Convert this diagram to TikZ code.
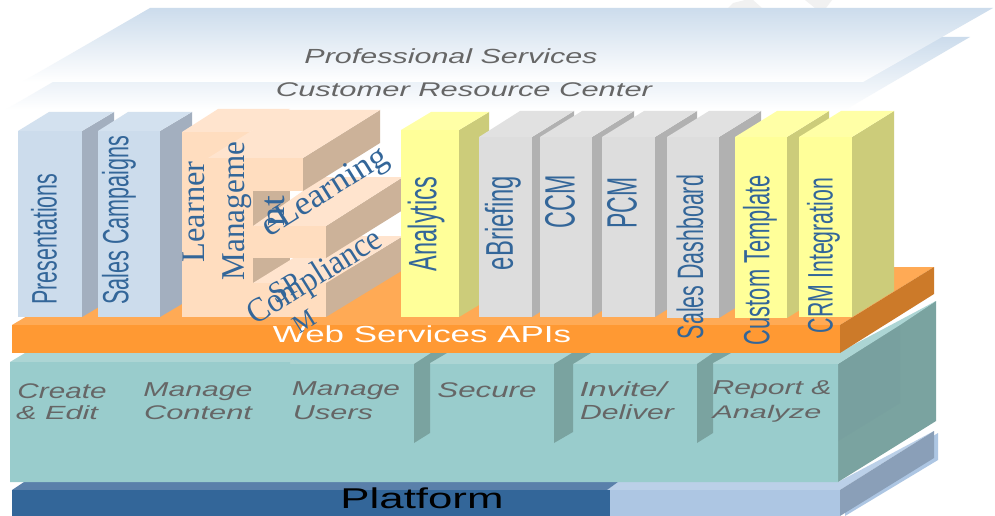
\documentclass[tikz,border=0pt]{standalone}
\usepackage{graphicx}
\usepackage{fontspec}
\setmainfont{Liberation Serif}
\setsansfont{Liberation Sans}
\definecolor{bluefront}{HTML}{CCDCEC}
\definecolor{bluetop}{HTML}{D3E1EF}
\definecolor{blueside}{HTML}{A3AFBF}
\definecolor{peachfront}{HTML}{FFDDBF}
\definecolor{peachtop}{HTML}{FFE4CE}
\definecolor{peachside}{HTML}{CCB299}
\definecolor{yelfront}{HTML}{FFFF99}
\definecolor{yeltop}{HTML}{FFFFA6}
\definecolor{yelside}{HTML}{CCCC7A}
\definecolor{greyfront}{HTML}{DDDDDD}
\definecolor{greytop}{HTML}{E1E1E1}
\definecolor{greyside}{HTML}{B1B1B1}
\definecolor{orfront}{HTML}{FF9933}
\definecolor{ortop}{HTML}{FFAA55}
\definecolor{orside}{HTML}{CC7A29}
\definecolor{teafront}{HTML}{99CCCC}
\definecolor{teatop}{HTML}{ACD5D4}
\definecolor{teaside}{HTML}{7AA3A0}
\definecolor{teainner}{HTML}{78A09F}
\definecolor{plat}{HTML}{336699}
\definecolor{plattop}{HTML}{5A80AA}
\definecolor{platlight}{HTML}{ADC6E3}
\definecolor{platlighttop}{HTML}{BBD0E8}
\definecolor{platside}{HTML}{8A9FB8}
\definecolor{skyblue}{HTML}{CCDCEC}
\definecolor{inkblue}{HTML}{336699}
\definecolor{inkgrey}{HTML}{666666}
\definecolor{ghost}{HTML}{F1F1F1}
\tikzset{
  txt/.style={inner sep=0pt,outer sep=0pt,anchor=center},
  narrow/.style={txt,text=inkblue,font=\sffamily,rotate=90},
  serifup/.style={txt,text=inkblue,font=\rmfamily,rotate=90},
  serifslant/.style={txt,text=inkblue,font=\rmfamily,rotate=32},
  captext/.style={txt,text=inkgrey,font=\sffamily\itshape},
}
\newcommand{\fitted}[3]{\resizebox*{#1pt}{#2pt}{#3}}
\newcommand{\block}[8]{% x1 x2 xbackleft xback ytop yback palette ybot
  \fill[#7side] (#2,#5) -- (#4,#6) -- (#4,#6+#8-#5) -- (#2,#8) -- cycle;
  \fill[#7top] (#1,#5) -- (#3,#6) -- (#4,#6) -- (#2,#5) -- cycle;
  \fill[#7front] (#1,#5) rectangle (#2,#8);
}
\begin{document}
\begin{tikzpicture}[x=1pt,y=-1pt]
\useasboundingbox (0,0) rectangle (995,516);
\fill[white] (0,0) rectangle (995,516);
% faint marks at the top edge
\fill[ghost] (728,8) -- (733,3) -- (745,0) -- (753,0) -- (762,8) -- cycle;
\fill[ghost] (805,0) -- (832,0) -- (826,8) -- (815,8) -- cycle;
% upper planes
\shade[top color=skyblue,bottom color=white] (130,37) -- (970,37) -- (845,110) -- (5,110) -- cycle;
\shade[top color=skyblue,bottom color=white] (150,8) -- (993,8) -- (863,82) -- (22,82) -- cycle;
% platform
\fill[platlight] (845,490) -- (938,433) -- (938,460) -- (845,516) -- cycle;
\fill[platlighttop] (607,490) -- (618,482) -- (838,482) -- (934,431) -- (840,490) -- cycle;
\fill[plattop] (12,490) -- (24,482) -- (618,482) -- (607,490) -- cycle;
\fill[plat] (12,490) rectangle (610,516);
\fill[platlight] (610,490) rectangle (840,516);
\fill[platside] (840,490) -- (934,431) -- (934,458) -- (840,516) -- cycle;
% services layer
\fill[teaside] (838,364) -- (936,301) -- (936,421) -- (838,482) -- cycle;
\fill[teainner] (838,364) -- (900,325) -- (900,403) -- (838,441) -- cycle;
\fill[teatop] (10,362) -- (25,353) -- (840,352) -- (936,301) -- (900,325) -- (838,364) -- (290,364) -- (290,362) -- cycle;
\fill[teafront] (10,362) -- (290,362) -- (290,364) -- (838,364) -- (838,482) -- (10,482) -- cycle;
\fill[teaside] (414,364) -- (414,443) -- (430,433) -- (430,363) -- (447,353) -- (431,353) -- cycle;
\fill[teaside] (554,364) -- (554,443) -- (573,432) -- (573,364) -- (591,353) -- (572,353) -- cycle;
\fill[teaside] (697,364) -- (697,443) -- (713,433) -- (713,363) -- (731,353) -- (713,353) -- cycle;
% orange layer
\fill[ortop] (12,325) -- (110,267) -- (934,267) -- (840,325) -- cycle;
\fill[orside] (840,325) -- (934,267) -- (934,294) -- (840,353) -- cycle;
\fill[orfront] (12,325) rectangle (840,353);
% blue modules
\block{18}{82}{49}{114}{131}{112}{blue}{317}
\block{98}{160}{128}{192}{131}{112}{blue}{317}
% peach compound block
\fill[peachside] (253,191) rectangle (290,317);
\fill[peachside] (326,283) -- (403,236) -- (403,270) -- (326,317) -- cycle;
\fill[peachtop] (253,283) -- (329,236) -- (403,236) -- (326,283) -- cycle;
\fill[peachfront] (253,283) rectangle (326,317);
\fill[peachside] (326,226) -- (403,177) -- (403,210) -- (326,258) -- cycle;
\fill[peachtop] (253,226) -- (323,177) -- (403,177) -- (326,226) -- cycle;
\fill[peachfront] (253,226) rectangle (326,258);
\fill[peachtop] (182,132) -- (218,109) -- (290,109) -- (250,132) -- cycle;
\fill[peachfront] (182,132) rectangle (253,317);
\fill[peachside] (303,158) -- (380,110) -- (380,143) -- (303,191) -- cycle;
\fill[peachtop] (208,158) -- (285,110) -- (380,110) -- (303,158) -- cycle;
\fill[peachfront] (208,158) rectangle (303,191);
% yellow and grey modules
\block{401}{459}{431}{489}{130}{112}{yel}{317}
\block{479}{532}{520}{574}{137}{111}{grey}{317}
\block{540}{592}{582}{634}{137}{111}{grey}{317}
\block{602}{655}{644}{697}{137}{111}{grey}{317}
\block{667}{719}{709}{761}{137}{111}{grey}{318}
\block{735}{787}{777}{829}{137}{111}{yel}{318}
\block{799}{852}{841}{894}{137}{111}{yel}{317}
% layer captions
\node[captext] (ps) at (451,56) {\fitted{293}{15}{Professional Services}};
\node[captext] (crc) at (464,90) {\fitted{376}{14}{Customer Resource Center}};
\node[txt,text=white,font=\sffamily] (web) at (422,334) {\fitted{298}{17}{Web Services APIs}};
\node[txt,text=black,font=\sffamily] (platform) at (422,498.5) {\fitted{163}{21}{Platform}};
\node[captext] (c1a) at (62,391) {\fitted{89}{15}{Create}};
\node[captext] (c1b) at (57,413) {\fitted{82}{14}{\& Edit}};
\node[captext] (c2a) at (198,392) {\fitted{109}{18}{Manage}};
\node[captext] (c2b) at (198,413) {\fitted{108}{14}{Content}};
\node[captext] (c3a) at (346,391) {\fitted{108}{18}{Manage}};
\node[captext] (c3b) at (333,413) {\fitted{80}{14}{Users}};
\node[captext] (c4) at (487,390) {\fitted{99}{15}{Secure}};
\node[captext] (c5a) at (623,389) {\fitted{87}{15}{Invite/}};
\node[captext] (c5b) at (627,412) {\fitted{94}{15}{Deliver}};
\node[captext] (c6a) at (772,390) {\fitted{119}{18}{Report \&}};
\node[captext] (c6b) at (767,414) {\fitted{109}{17}{Analyze}};
% module labels
\node[narrow] (m1) at (44,239) {\fitted{131}{26}{Presentations}};
\node[narrow] (m2) at (119,220) {\fitted{169}{34}{Sales Campaigns}};
\node[narrow] (m3) at (426,224) {\fitted{94}{37}{Analytics}};
\node[narrow] (m4) at (503,223) {\fitted{94}{36}{eBriefing}};
\node[narrow] (m5) at (560,202) {\fitted{53}{30}{CCM}};
\node[narrow] (m6) at (622,203) {\fitted{51}{30}{PCM}};
\node[narrow] (m7) at (690,257) {\fitted{164}{27}{Sales Dashboard}};
\node[narrow] (m8) at (760,260) {\fitted{170}{34}{Custom Template}};
\node[narrow] (m9) at (823.5,255.5) {\fitted{155}{33}{CRM Integration}};
\node[serifup] (l1) at (194,212) {\fitted{101}{22}{Learner}};
\node[serifup] (l2) at (237,211) {\fitted{138}{29}{Manageme}};
\node[serifup] (l3) at (275,211) {\fitted{30}{20}{nt}};
\node[serifslant] (l4) at (326,193) {\fitted{142}{30}{eLearning}};
\node[serifslant] (l5) at (315.5,278.5) {\fitted{152}{31}{Compliance}};
\node[serifslant] (l6) at (285,288) {\fitted{32}{20}{SP}};
\node[serifslant] (l7) at (304,321) {\fitted{22}{17}{M}};
\end{tikzpicture}
\end{document}
